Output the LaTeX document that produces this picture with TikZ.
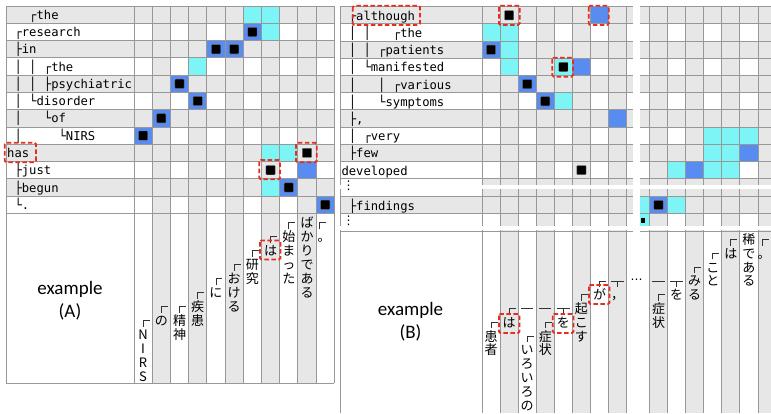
\documentclass[tikz,border=0pt]{standalone}
\usepackage{fontspec}
\setmainfont{Carlito}
\newfontfamily\monofnt{DejaVu Sans Mono}
\newfontfamily\jpfnt{Noto Sans CJK JP}
\newfontfamily\dvfnt{DejaVu Sans}
\definecolor{cellgray}{RGB}{231,231,231}
\definecolor{gridgray}{RGB}{152,152,152}
\definecolor{cyanc}{RGB}{125,245,247}
\definecolor{bluec}{RGB}{88,140,240}
\definecolor{redbx}{RGB}{230,45,30}
\tikzset{
 gridln/.style={draw=gridgray, line width=0.9pt},
 markln/.style={draw=black!80, line width=0.8pt},
 treetext/.style={anchor=base west, inner sep=0pt, font=\monofnt\fontsize{12.2}{14}\selectfont},
 jpc/.style={anchor=base, inner sep=0pt, font=\jpfnt\fontsize{13}{14}\selectfont},
 redbox/.style={draw=redbx, line width=1.8pt, dash pattern=on 4.5pt off 2.5pt, rounded corners=1.5pt},
 blacksq/.style={fill=black, draw=black!60, line width=0.4pt, rounded corners=0.8pt},
 exlabel/.style={align=center, font=\fontsize{19}{22.7}\selectfont, inner sep=0pt},
 dotsym/.style={inner sep=0pt, font=\dvfnt\fontsize{12}{14}\selectfont}
}
\newcommand\Acell[3]{\fill[#3] ({134+(#2-1)*18.21},{6+(#1-1)*17.28}) rectangle ++(18.21,17.28);}
\newcommand\Ablk[2]{\fill[blacksq] ({134+(#2-0.5)*18.21-4.6},{6+(#1-0.5)*17.28-4.6}) rectangle ++(9.2,9.2);}
\newcommand\Bcell[3]{\fill[#3] ({482+(#2-1)*18.08},{6.7+(#1-1)*17.2}) rectangle ++(18.08,17.2);}
\newcommand\Bcellr[3]{\fill[#3] ({649.5+(#2-1)*18.08},{6.7+(#1-1)*17.2}) rectangle ++(18.08,17.2);}
\newcommand\Bblk[2]{\fill[blacksq] ({482+(#2-0.5)*18.08-4.6},{6.7+(#1-0.5)*17.2-4.6}) rectangle ++(9.2,9.2);}
\newcommand\vlab[5]{\foreach \ch [count=\i] in {#5} {\node[jpc] (#1-\i) at (#2,{#3+(\i-1)*#4+4.94}) {\ch};}}
\newcommand\mkcorner[2]{\draw[markln] (#1,{#2+6}) -- (#1,#2) -- ({#1+6.5},#2);}
\newcommand\mkbar[2]{\draw[markln] ({#1-6.2},#2) -- ({#1+6.2},#2);}
\newcommand\mktee[2]{\draw[markln] ({#1-6.2},#2) -- ({#1+6.2},#2) (#1,#2) -- (#1,{#2+6});}
\begin{document}
\begin{tikzpicture}[x=1pt,y=-1pt]
\useasboundingbox (0,0) rectangle (771,413);
\fill[white] (0,0) rectangle (771,413);
% ================= PANEL A =================
\fill[white] (6,6) rectangle (334.31,383);
\foreach \r in {1,3,5,7,9,11} \fill[cellgray] (6,{6+(\r-1)*17.28}) rectangle (334.31,{6+\r*17.28});
\foreach \c in {2,4,6,8,10} \fill[cellgray] ({134+(\c-1)*18.21},6) rectangle ({134+\c*18.21},383);
% cyan cells
\Acell{1}{7}{cyanc} \Acell{1}{8}{cyanc} \Acell{2}{8}{cyanc} \Acell{4}{4}{cyanc}
\Acell{9}{8}{cyanc} \Acell{9}{9}{cyanc} \Acell{11}{8}{cyanc}
% blue cells
\Acell{2}{7}{bluec} \Acell{3}{5}{bluec} \Acell{3}{6}{bluec} \Acell{5}{3}{bluec}
\Acell{6}{4}{bluec} \Acell{7}{2}{bluec} \Acell{8}{1}{bluec} \Acell{10}{10}{bluec}
\Acell{11}{9}{bluec} \Acell{12}{11}{bluec}
% grid
\foreach \k in {0,...,12} \draw[gridln] (6,{6+\k*17.28}) -- (334.31,{6+\k*17.28});
\draw[gridln] (6,383) -- (334.31,383);
\draw[gridln] (6,6) -- (6,383);
\foreach \k in {0,...,11} \draw[gridln] ({134+\k*18.21},6) -- ({134+\k*18.21},383);
% black squares
\Ablk{2}{7} \Ablk{3}{5} \Ablk{3}{6} \Ablk{5}{3} \Ablk{6}{4} \Ablk{7}{2} \Ablk{8}{1}
\Ablk{9}{10} \Ablk{10}{8} \Ablk{11}{9} \Ablk{12}{11}
% tree text
\node[treetext] (tA1) at (7,{6+0*17.28+13.3}) {\ \ \ ┌the};
\node[treetext] (tA2) at (7,{6+1*17.28+13.3}) {\ ┌research};
\node[treetext] (tA3) at (7,{6+2*17.28+13.3}) {\ ├in};
\node[treetext] (tA4) at (7,{6+3*17.28+13.3}) {\ │\ │\ ┌the};
\node[treetext] (tA5) at (7,{6+4*17.28+13.3}) {\ │\ │\ ├psychiatric};
\node[treetext] (tA6) at (7,{6+5*17.28+13.3}) {\ │\ └disorder};
\node[treetext] (tA7) at (7,{6+6*17.28+13.3}) {\ │\ \ \ └of};
\node[treetext] (tA8) at (7,{6+7*17.28+13.3}) {\ │\ \ \ \ \ └NIRS};
\node[treetext] (tA9) at (7,{6+8*17.28+13.3}) {has};
\node[treetext] (tA10) at (7,{6+9*17.28+13.3}) {\ ├just};
\node[treetext] (tA11) at (7,{6+10*17.28+13.3}) {\ ├begun};
\node[treetext] (tA12) at (7,{6+11*17.28+13.3}) {\ └.};
% vertical labels A
\mkcorner{143.1}{320.5} \vlab{Aa}{143.1}{334.5}{14}{N,I,R,S}
\mkcorner{161.3}{306.5} \vlab{Ab}{161.3}{320.5}{14}{の}
\mkcorner{179.5}{306.5} \vlab{Ac}{179.5}{320.5}{14}{精,神}
\mkcorner{197.7}{292.5} \vlab{Ad}{197.7}{306.5}{14}{疾,患}
\mkcorner{215.9}{278.5} \vlab{Ae}{215.9}{292.5}{14}{に}
\mkcorner{234.2}{264.5} \vlab{Af}{234.2}{278.5}{14}{お,け,る}
\mkcorner{252.4}{250.5} \vlab{Ag}{252.4}{264.5}{14}{研,究}
\mkcorner{270.6}{236.5} \vlab{Ah}{270.6}{250.5}{14}{は}
\mkcorner{288.8}{222.5} \vlab{Ai}{288.8}{236.5}{14}{始,ま,っ,た}
\vlab{Aj}{307.0}{222.5}{14}{ば,か,り,で,あ,る}
\mkcorner{319.5}{222.5} \vlab{Al}{324.0}{236.5}{14}{。}
\node[exlabel] (exA) at (70,300.5) {example\\(A)};
% red boxes A
\draw[redbox] (4.7,142.7) rectangle (36,162.3);
\draw[redbox] (296,142.7) rectangle (316.7,162.3);
\draw[redbox] (259.3,160) rectangle (280,179.3);
\draw[redbox] (260,240.5) rectangle (280.5,259.5);
% ================= PANEL B =================
\fill[white] (340,6.7) rectangle (771,413);
\foreach \r in {1,3,5,7,9} \fill[cellgray] (340,{6.7+(\r-1)*17.2}) rectangle (771,{6.7+\r*17.2});
\fill[cellgray] (482,178.7) rectangle (771,196.5);
\fill[cellgray] (340,196.5) rectangle (771,213.5);
\foreach \c in {2,4,6,8} \fill[cellgray] ({482+(\c-1)*18.08},6.7) rectangle ({482+\c*18.08},413);
\foreach \k in {1,3,5} \fill[cellgray] ({649.5+(\k-1)*18.08},6.7) rectangle ({649.5+\k*18.08},413);
\fill[cellgray] (758,6.7) rectangle (771,413);
% cells left part
\Bcell{1}{7}{bluec}
\Bcell{2}{1}{cyanc} \Bcell{2}{2}{cyanc}
\Bcell{3}{1}{bluec} \Bcell{3}{2}{cyanc}
\Bcell{4}{2}{cyanc} \Bcell{4}{5}{cyanc} \Bcell{4}{6}{bluec}
\Bcell{5}{3}{bluec}
\Bcell{6}{4}{bluec} \Bcell{6}{5}{cyanc}
\Bcell{7}{8}{bluec}
% cells right part
\Bcellr{8}{4}{cyanc} \Bcellr{8}{5}{cyanc} \Bcellr{8}{6}{cyanc}
\Bcellr{9}{4}{cyanc} \Bcellr{9}{5}{cyanc} \Bcellr{9}{6}{bluec}
\Bcellr{10}{2}{cyanc} \Bcellr{10}{3}{bluec} \Bcellr{10}{4}{cyanc} \Bcellr{10}{5}{cyanc}
\fill[cyanc] (640,196.5) rectangle (649.5,213.5);
\fill[bluec] (649.5,196.5) rectangle (667.58,213.5);
\fill[cyanc] (667.58,196.5) rectangle (685.66,213.5);
\fill[cyanc] (640,213.5) rectangle (649.5,226);
% grid B
\foreach \k in {0,...,10} \draw[gridln] (340,{6.7+\k*17.2}) -- (771,{6.7+\k*17.2});
\foreach \yy in {196.5,213.5,231} \draw[gridln] (340,\yy) -- (771,\yy);
\draw[gridln] (340,6.7) -- (340,413);
\draw[gridln] (482,6.7) -- (482,413);
\foreach \k in {1,...,8} \draw[gridln] ({482+\k*18.08},6.7) -- ({482+\k*18.08},413);
\foreach \k in {0,...,6} \draw[gridln] ({649.5+\k*18.08},6.7) -- ({649.5+\k*18.08},413);
% black squares B
\Bblk{1}{2} \Bblk{3}{1} \Bblk{4}{5} \Bblk{5}{3} \Bblk{6}{4} \Bblk{10}{6}
\fill[blacksq] (653.9,200.4) rectangle ++(9.2,9.2);
\fill[black] (640.5,218.3) rectangle (645,222.7);
% gaps
\fill[white] (633,0) rectangle (640,413);
\fill[white] (338,184.5) rectangle (771,188.5);
\fill[white] (338,226) rectangle (771,230);
% tree text B
\node[treetext] (tB1) at (341.3,{6.7+0*17.2+13.5}) {\ ┌although};
\node[treetext] (tB2) at (341.3,{6.7+1*17.2+13.5}) {\ │\ │\ \ \ ┌the};
\node[treetext] (tB3) at (341.3,{6.7+2*17.2+13.5}) {\ │\ │\ ┌patients};
\node[treetext] (tB4) at (341.3,{6.7+3*17.2+13.5}) {\ │\ └manifested};
\node[treetext] (tB5) at (341.3,{6.7+4*17.2+13.5}) {\ │\ \ \ │\ ┌various};
\node[treetext] (tB6) at (341.3,{6.7+5*17.2+13.5}) {\ │\ \ \ └symptoms};
\node[treetext] (tB7) at (341.3,{6.7+6*17.2+13.5}) {\ ├,};
\node[treetext] (tB8) at (341.3,{6.7+7*17.2+13.5}) {\ │\ ┌very};
\node[treetext] (tB9) at (341.3,{6.7+8*17.2+13.5}) {\ ├few};
\node[treetext] (tB10) at (341.3,{6.7+9*17.2+13.5}) {developed};
\node[treetext] (tB11) at (341.3,210) {\ ├findings};
\node[dotsym] (vd1) at (348.5,186) {⋮};
\node[dotsym] (vd2) at (348.5,221) {⋮};
% vertical labels B
\mkcorner{491.04}{322.3} \vlab{Ba}{491.04}{336.1}{13.8}{患,者}
\mkcorner{509.12}{308.5} \vlab{Bb}{509.12}{322.3}{13.8}{は}
\mkbar{527.2}{308.5} \mkcorner{527.2}{336.1} \vlab{Bd}{527.2}{349.9}{13.8}{い,ろ,い,ろ,の}
\mkbar{545.28}{308.5} \mkcorner{545.28}{322.3} \vlab{Be}{545.28}{336.1}{13.8}{症,状}
\mktee{563.36}{308.5} \vlab{Bf}{563.36}{322.3}{13.8}{を}
\mkcorner{581.44}{294.7} \vlab{Bg}{581.44}{308.5}{13.8}{起,こ,す}
\mkcorner{599.52}{280.9} \vlab{Bh}{599.52}{294.7}{13.8}{が}
\mktee{617.6}{280.9} \vlab{Bi}{617.6}{294.7}{13.8}{，}
\node[dotsym] (hd) at (636.5,280.9) {⋯};
\mkbar{658.54}{280.9} \mkcorner{658.54}{294.7} \vlab{Bj}{658.54}{308.5}{13.8}{症,状}
\mktee{676.62}{280.9} \vlab{Bk}{676.62}{294.7}{13.8}{を}
\mkcorner{694.7}{267.1} \vlab{Bl}{694.7}{280.9}{13.8}{み,る}
\mkcorner{712.78}{253.3} \vlab{Bm}{712.78}{267.1}{13.8}{こ,と}
\mkcorner{730.86}{239.5} \vlab{Bn}{730.86}{253.3}{13.8}{は}
\vlab{Bo}{748.94}{239.5}{13.8}{稀,で,あ,る}
\mkcorner{762.5}{239.5} \vlab{Bq}{764}{253.3}{13.8}{。}
\node[exlabel] (exB) at (410.5,321.7) {example\\(B)};
% red boxes B
\draw[redbox] (352.7,5.7) rectangle (420,25);
\draw[redbox] (499,5.7) rectangle (519.7,25);
\draw[redbox] (588.7,5.7) rectangle (608.7,25);
\draw[redbox] (552.3,57.7) rectangle (573,76.7);
\draw[redbox] (499,314) rectangle (519.5,333);
\draw[redbox] (552.8,314) rectangle (573.5,333);
\draw[redbox] (589,285) rectangle (609.5,304);
\end{tikzpicture}
\end{document}
